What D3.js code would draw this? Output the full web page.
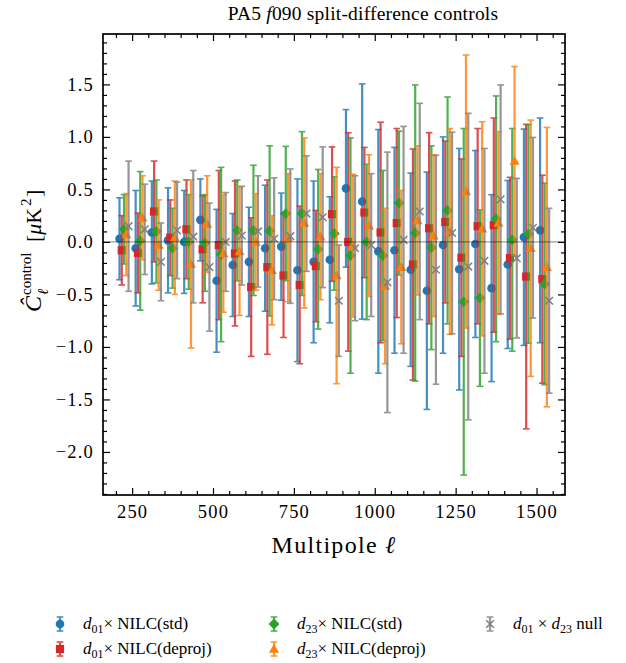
<!DOCTYPE html>
<html>
<head>
<meta charset="utf-8">
<title>PA5 f090 split-difference controls</title>
<script src="https://cdn.jsdelivr.net/npm/d3@7"></script>
<style>
  body { margin: 0; background: #fff; }
  text { font-family: "Liberation Serif", "DejaVu Serif", serif; fill: #000; }
</style>
</head>
<body>
<div id="chart"></div>
<script>
// multipole bin centres
var ells = [225, 275, 325, 375, 425, 475, 525, 575, 625, 675, 725, 775, 825, 875, 925,
            975, 1025, 1075, 1125, 1175, 1225, 1275, 1325, 1375, 1425, 1475, 1525];

// d01 x NILC(std)
var d01Std = [0.03, -0.06, 0.09, 0.015, 0.00, 0.21, -0.37, -0.22, -0.19, -0.06, -0.045, -0.27, -0.19, -0.17,
              0.51, 0.385, -0.09, -0.08, -0.265, -0.465, -0.03, -0.26, -0.02, -0.44, -0.215, 0.045, 0.11];
var d01StdErr = [0.39, 0.55, 0.49, 0.50, 0.49, 0.39, 0.68, 0.49, 0.52, 0.60, 0.51, 0.87, 0.77, 0.60,
                 0.75, 1.12, 1.16, 0.98, 0.92, 1.13, 1.03, 1.15, 0.89, 0.89, 0.80, 1.03, 1.07];
// d01 x NILC(deproj)
var d01Dep = [-0.08, -0.105, 0.29, 0.04, 0.12, -0.07, -0.03, -0.11, -0.43, -0.24, -0.32, -0.41, -0.23, 0.265,
              0.00, 0.28, 0.09, 0.18, -0.215, 0.13, 0.19, -0.15, 0.15, 0.16, -0.155, -0.33, -0.355];
var d01DepErr = [0.33, 0.38, 0.48, 0.36, 0.47, 0.51, 0.71, 0.69, 0.66, 0.83, 0.59, 0.75, 0.53, 0.64,
                 1.04, 0.62, 1.05, 0.90, 1.10, 0.91, 0.77, 0.94, 0.93, 1.02, 0.77, 1.45, 0.99];
// d23 x NILC(std)
var d23Std = [0.12, 0.01, 0.10, -0.06, 0.00, -0.01, -0.12, 0.11, 0.11, 0.105, 0.27, 0.27, -0.07, 0.08,
              -0.13, 0.00, -0.13, 0.37, 0.085, -0.055, 0.30, -0.57, -0.535, 0.22, 0.02, 0.075, -0.40];
var d23StdErr = [0.33, 0.66, 0.49, 0.38, 0.45, 0.46, 0.83, 0.48, 0.62, 0.81, 0.64, 0.78, 0.76, 0.54,
                 1.12, 0.74, 0.81, 0.685, 1.41, 0.97, 1.08, 1.65, 0.84, 1.17, 1.06, 1.04, 0.96];
// d23 x NILC(deproj)
var d23Dep = [0.07, 0.23, -0.03, 0.04, -0.21, 0.17, -0.11, -0.09, 0.00, -0.27, 0.04, 0.18, 0.05, -0.32,
              -0.035, 0.155, -0.42, -0.24, 0.205, 0.06, 0.10, 0.48, 0.125, 0.18, 0.77, -0.06, -0.24];
var d23DepErr = [0.39, 0.40, 0.43, 0.54, 0.80, 0.46, 0.56, 0.61, 0.46, 0.52, 0.61, 0.81, 0.60, 1.03,
                 0.68, 0.675, 0.74, 0.73, 0.71, 0.77, 0.98, 1.30, 1.02, 0.87, 0.90, 1.22, 1.33];
// d01 x d23 null
var nullVals = [0.15, 0.12, -0.19, 0.11, 0.05, -0.24, 0.00, 0.06, 0.10, 0.03, 0.055, 0.27, 0.235, -0.56,
                -0.06, -0.03, -0.385, 0.02, 0.29, -0.265, 0.085, -0.235, -0.18, 0.405, -0.155, 0.135, -0.56];
var nullErr = [0.62, 0.43, 0.37, 0.46, 0.63, 0.61, 0.47, 0.47, 0.53, 0.58, 0.64, 0.55, 0.67, 0.53,
               0.69, 0.68, 1.24, 1.08, 1.03, 1.09, 0.96, 1.46, 1.07, 1.09, 0.76, 0.86, 0.88];

var xTicks = [250, 500, 750, 1000, 1250, 1500];
var yTicks = [-2.0, -1.5, -1.0, -0.5, 0.0, 0.5, 1.0, 1.5];

var series = [
  {vals: d01Std, errs: d01StdErr, color: "#1f77b4", marker: "circle", shift: -14, name: ["d", "01", "\u00d7 NILC(std)"]},
  {vals: d01Dep, errs: d01DepErr, color: "#d62728", marker: "square", shift: -7, name: ["d", "01", "\u00d7 NILC(deproj)"]},
  {vals: d23Std, errs: d23StdErr, color: "#2ca02c", marker: "diamond", shift: 0, name: ["d", "23", "\u00d7 NILC(std)"]},
  {vals: d23Dep, errs: d23DepErr, color: "#ff7f0e", marker: "triangle", shift: 7, name: ["d", "23", "\u00d7 NILC(deproj)"]},
  {vals: nullVals, errs: nullErr, color: "#7f7f7f", marker: "cross", shift: 14, name: null}
];

var W = 626, H = 663;
var plotLeft = 103, plotRight = 565, plotTop = 34, plotBottom = 495;

var svg = d3.select("#chart").append("svg").attr("width", W).attr("height", H);

var x = d3.scaleLinear().domain([160, 1588]).range([plotLeft, plotRight]);
var y = d3.scaleLinear().domain([-2.41, 1.98]).range([plotBottom, plotTop]);

function drawMarker(g, type, cx, cy, color) {
  if (type == "circle") {
    g.append("circle").attr("cx", cx).attr("cy", cy).attr("r", 4.3).style("fill", color);
  } else if (type == "square") {
    g.append("rect").attr("x", cx - 4.1).attr("y", cy - 4.1).attr("width", 8.2).attr("height", 8.2).style("fill", color);
  } else if (type == "diamond") {
    g.append("path").attr("d", "M" + cx + "," + (cy - 5.4) + "L" + (cx + 5.4) + "," + cy + "L" + cx + "," + (cy + 5.4) + "L" + (cx - 5.4) + "," + cy + "Z").style("fill", color);
  } else if (type == "triangle") {
    g.append("path").attr("d", "M" + cx + "," + (cy - 5.3) + "L" + (cx + 5) + "," + (cy + 3.8) + "L" + (cx - 5) + "," + (cy + 3.8) + "Z").style("fill", color);
  } else {
    g.append("path").attr("d", "M" + (cx - 3.8) + "," + (cy - 3.8) + "L" + (cx + 3.8) + "," + (cy + 3.8) + "M" + (cx - 3.8) + "," + (cy + 3.8) + "L" + (cx + 3.8) + "," + (cy - 3.8))
      .style("stroke", color).style("stroke-width", 1.5).style("fill", "none");
  }
}

function errBar(g, cx, y1, y2, color) {
  g.append("line").attr("x1", cx).attr("x2", cx).attr("y1", y1).attr("y2", y2)
    .style("stroke", color).style("stroke-width", 2.2);
  g.append("line").attr("x1", cx - 3.3).attr("x2", cx + 3.3).attr("y1", y1).attr("y2", y1)
    .style("stroke", color).style("stroke-width", 1.6);
  g.append("line").attr("x1", cx - 3.3).attr("x2", cx + 3.3).attr("y1", y2).attr("y2", y2)
    .style("stroke", color).style("stroke-width", 1.6);
}

series.forEach(function (s) {
  var g = svg.append("g").style("opacity", 0.82);
  var gm = svg.append("g");
  ells.forEach(function (l, i) {
    var cx = x(l + s.shift);
    errBar(g, cx, y(s.vals[i] + s.errs[i]), y(s.vals[i] - s.errs[i]), s.color);
    drawMarker(gm, s.marker, cx, y(s.vals[i]), s.color);
  });
});

// zero line, on top of the bars
svg.append("line")
  .attr("x1", plotLeft).attr("x2", plotRight)
  .attr("y1", y(0)).attr("y2", y(0))
  .style("stroke", "#000").style("stroke-opacity", 0.55).style("stroke-width", 0.9);

// frame
svg.append("rect").attr("x", plotLeft).attr("y", plotTop).attr("width", plotRight - plotLeft).attr("height", plotBottom - plotTop)
  .style("fill", "none").style("stroke", "#000").style("stroke-width", 1.7);

// ticks (inside, all four sides)
var xMinor = d3.range(200, 1588, 50).filter(function (v) { return v % 250 != 0; });
var yMinor = d3.range(-24, 20).map(function (v) { return v / 10; }).filter(function (v) { return Math.abs(v * 2 - Math.round(v * 2)) > 1e-6; });

svg.append("g").attr("transform", "translate(0," + plotBottom + ")")
  .call(d3.axisBottom(x).tickValues(xTicks).tickSizeInner(-7).tickSizeOuter(0).tickPadding(10).tickFormat(d3.format("d")));
svg.append("g").attr("transform", "translate(0," + plotBottom + ")")
  .call(d3.axisBottom(x).tickValues(xMinor).tickSizeInner(-4).tickSizeOuter(0).tickFormat(""));
svg.append("g").attr("transform", "translate(0," + plotTop + ")")
  .call(d3.axisTop(x).tickValues(xTicks).tickSizeInner(-7).tickSizeOuter(0).tickFormat(""));
svg.append("g").attr("transform", "translate(0," + plotTop + ")")
  .call(d3.axisTop(x).tickValues(xMinor).tickSizeInner(-4).tickSizeOuter(0).tickFormat(""));

svg.append("g").attr("transform", "translate(" + plotLeft + ",0)")
  .call(d3.axisLeft(y).tickValues(yTicks).tickSizeInner(-7).tickSizeOuter(0).tickPadding(9)
    .tickFormat(function (d) { return d3.format(".1f")(d).replace("-", "\u2212"); }));
svg.append("g").attr("transform", "translate(" + plotLeft + ",0)")
  .call(d3.axisLeft(y).tickValues(yMinor).tickSizeInner(-4).tickSizeOuter(0).tickFormat(""));
svg.append("g").attr("transform", "translate(" + plotRight + ",0)")
  .call(d3.axisRight(y).tickValues(yTicks).tickSizeInner(-7).tickSizeOuter(0).tickFormat(""));
svg.append("g").attr("transform", "translate(" + plotRight + ",0)")
  .call(d3.axisRight(y).tickValues(yMinor).tickSizeInner(-4).tickSizeOuter(0).tickFormat(""));

svg.selectAll(".domain").remove();
svg.selectAll(".tick line").style("stroke", "#000").style("stroke-width", 1.2);
svg.selectAll(".tick text").style("font-family", "'Liberation Serif', serif").style("font-size", "18.5px")
  .style("letter-spacing", "1.2px").style("fill", "#000");

// title
var title = svg.append("text").attr("x", 363).attr("y", 20).attr("text-anchor", "middle")
  .style("font-size", "19.5px").style("letter-spacing", "0.2px");
title.append("tspan").text("PA5 ");
title.append("tspan").style("font-style", "italic").text("f");
title.append("tspan").text("090 split-difference controls");

// x label
var xl = svg.append("text").attr("x", 334).attr("y", 553).attr("text-anchor", "middle")
  .style("font-size", "24px").style("letter-spacing", "1.3px");
xl.append("tspan").text("Multipole ");
xl.append("tspan").style("font-style", "italic").text("\u2113");

// y label
var yl = svg.append("g").attr("transform", "translate(41,248) rotate(-90)");
yl.append("text").attr("x", -64).attr("y", 0).style("font-size", "24px").style("font-style", "italic").text("C\u0302");
yl.append("text").attr("x", -47).attr("y", -10).style("font-size", "15px").text("control");
yl.append("text").attr("x", -47).attr("y", 7).style("font-size", "15px").style("font-style", "italic").text("\u2113");
var unit = yl.append("text").attr("x", 6).attr("y", 0).style("font-size", "22px");
unit.append("tspan").text("[");
unit.append("tspan").style("font-style", "italic").text("\u03bc");
unit.append("tspan").text("K");
yl.append("text").attr("x", 42).attr("y", -10).style("font-size", "15px").text("2");
yl.append("text").attr("x", 51).attr("y", 0).style("font-size", "22px").text("]");

// legend
var legPos = [[60, 624], [60, 649], [274, 624], [274, 649], [490, 624]];
series.forEach(function (s, i) {
  var lx = legPos[i][0], ly = legPos[i][1];
  var g = svg.append("g").style("opacity", 0.82);
  errBar(g, lx, ly - 7, ly + 7, s.color);
  drawMarker(svg.append("g"), s.marker, lx, ly, s.color);
  var t = svg.append("text").attr("x", lx + 23).attr("y", ly + 5).style("font-size", "17px");
  if (s.name) {
    t.append("tspan").style("font-style", "italic").text(s.name[0]);
    t.append("tspan").attr("dy", 4).style("font-size", "12px").text(s.name[1]);
    t.append("tspan").attr("dy", -4).text(s.name[2]);
  } else {
    t.append("tspan").style("font-style", "italic").text("d");
    t.append("tspan").attr("dy", 4).style("font-size", "12px").text("01");
    t.append("tspan").attr("dy", -4).text(" \u00d7 ");
    t.append("tspan").style("font-style", "italic").text("d");
    t.append("tspan").attr("dy", 4).style("font-size", "12px").text("23");
    t.append("tspan").attr("dy", -4).text("  null");
  }
});
</script>
</body>
</html>
